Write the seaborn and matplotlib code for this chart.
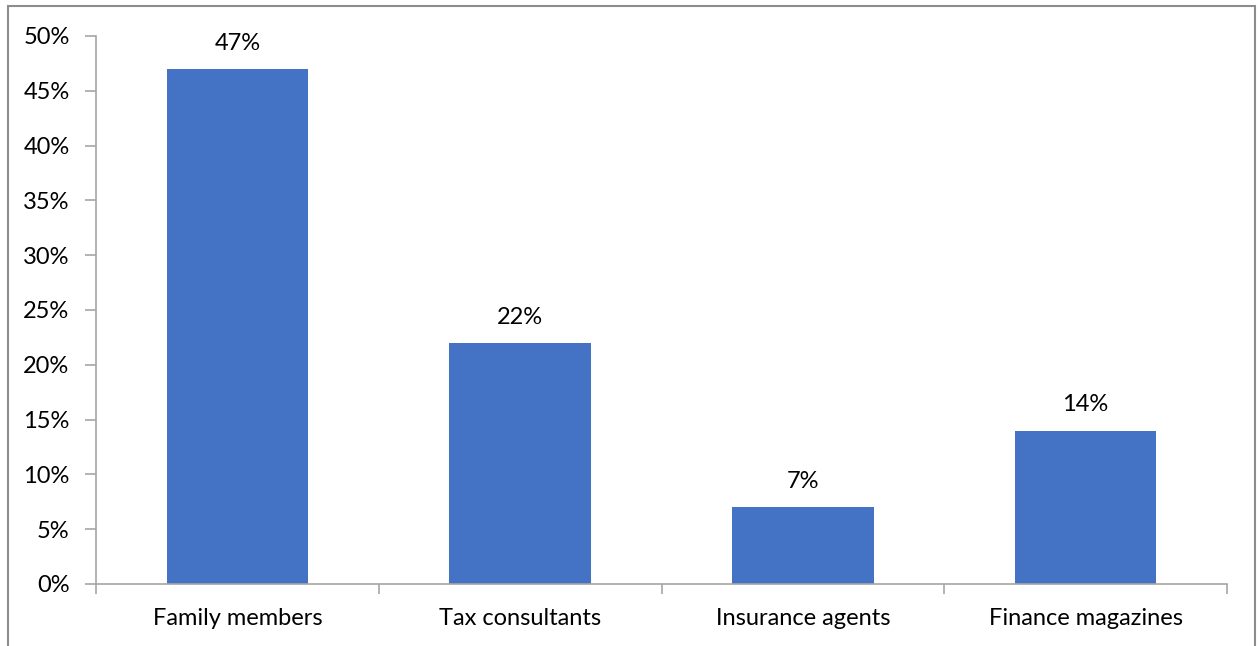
import matplotlib
matplotlib.use("Agg")
import matplotlib.pyplot as plt
import matplotlib.patches as mpatches
from matplotlib.ticker import FuncFormatter, MultipleLocator
import seaborn as sns
import pandas as pd

categories = ["Family members", "Tax consultants", "Insurance agents", "Finance magazines"]
shares = [47, 22, 7, 14]

sns.set_theme(style="white")
plt.rcParams["font.family"] = ["Lato", "DejaVu Sans"]

W, H = 1258, 646
FS = 17
fig = plt.figure(figsize=(W / 100, H / 100), dpi=100)
ax = fig.add_axes([96 / W, 1 - 584 / H, (1227 - 96) / W, (584 - 36) / H])

df = pd.DataFrame({"source": categories, "share": shares})
sns.barplot(data=df, x="source", y="share", color="#4472C4", saturation=1,
            width=0.5, linewidth=0, ax=ax)

ax.set_xlim(-0.5, len(categories) - 0.5)
ax.set_ylim(0, 50)
ax.yaxis.set_major_locator(MultipleLocator(5))
ax.yaxis.set_major_formatter(FuncFormatter(lambda v, _: f"{v:.0f}%"))
ax.set_xlabel("")
ax.set_ylabel("")

spine_col = "#A6A6A6"
for side in ("top", "right"):
    ax.spines[side].set_visible(False)
for side in ("left", "bottom"):
    ax.spines[side].set_color(spine_col)
    ax.spines[side].set_linewidth(1.2)

# category boundaries carry the x tick marks
ax.set_xticks([i - 0.5 for i in range(len(categories) + 1)], minor=True)
ax.tick_params(axis="x", which="minor", length=7, width=1.2, color=spine_col, direction="out")
ax.tick_params(axis="x", which="major", length=0, labelsize=FS, pad=17, labelcolor="#000000")
ax.tick_params(axis="y", length=8, width=1.2, color=spine_col, direction="out",
               labelsize=FS, pad=11, labelcolor="#000000")
ax.tick_params(axis="both", which="both", bottom=True, left=True)

for i, v in enumerate(shares):
    ax.annotate(f"{v}%", (i, v), xytext=(0, 11), textcoords="offset points",
                ha="center", va="bottom", fontsize=FS, color="#000000")

# chart frame
frame = mpatches.Rectangle((8 / W, -0.05), (1255 - 8) / W, 1.05 - 6 / H,
                           transform=fig.transFigure, fill=False,
                           edgecolor="#8C8C8C", linewidth=1.5, clip_on=False)
fig.patches.append(frame)

fig.savefig("out.png", dpi=100, facecolor="white")
